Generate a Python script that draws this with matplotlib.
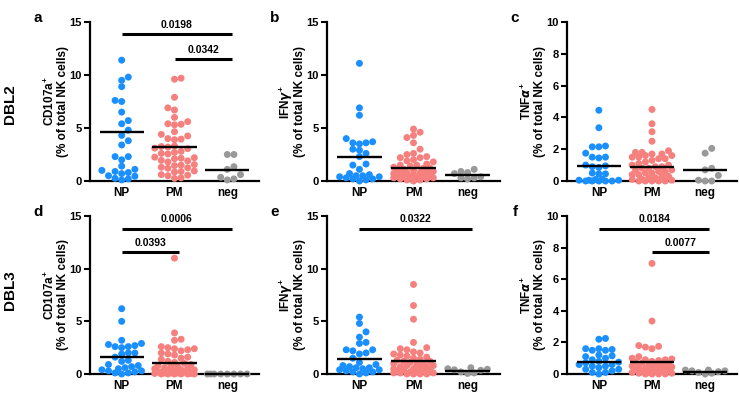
import numpy as np
import matplotlib
matplotlib.use("Agg")
import matplotlib.pyplot as plt

plt.rcParams['font.family'] = ['Liberation Sans', 'DejaVu Sans']
plt.rcParams['font.weight'] = 'bold'
plt.rcParams['mathtext.fontset'] = 'custom'
plt.rcParams['mathtext.rm'] = 'Liberation Sans:bold'
plt.rcParams['mathtext.bf'] = 'Liberation Sans:bold'

groups = ["NP", "PM", "neg"]
group_colors = ["#1a8fff", "#f5807e", "#999999"]

# DBL2 - CD107a
a_np = [11.4, 9.8, 9.5, 8.9, 7.6, 7.5, 6.5, 5.7, 5.4, 4.8, 4.3, 3.8, 3.4, 2.3, 2.3, 2.0,
        1.4, 1.1, 1.0, 0.9, 0.8, 0.7, 0.5, 0.45, 0.25, 0.2, 0.1]
a_pm = [9.7, 9.6, 7.9, 6.9, 6.7, 6.0, 5.6, 5.4, 5.35, 5.3, 4.65, 4.4, 4.25, 4.0, 3.95, 3.9,
        3.3, 3.25, 3.2, 3.1, 3.05, 2.8, 2.7, 2.6, 2.55, 2.25, 2.2, 2.15, 2.1, 1.95, 1.9, 1.8,
        1.55, 1.5, 1.45, 1.3, 1.25, 1.2, 0.95, 0.9, 0.85, 0.6, 0.55, 0.5, 0.3, 0.25]
a_neg = [2.5, 2.5, 1.35, 1.1, 0.6, 0.35, 0.2, 0.1]
a_mean = [4.6, 3.2, 1.05]

# DBL2 - IFNg
b_np = [11.1, 6.9, 6.2, 4.0, 3.7, 3.6, 3.6, 3.5, 3.0, 2.9, 2.6, 2.3, 1.6, 1.5, 1.1, 0.7,
        0.6, 0.5, 0.5, 0.4, 0.4, 0.3, 0.2, 0.2, 0.1, 0.0]
b_pm = [4.9, 4.6, 4.3, 4.1, 3.6, 3.0, 2.6, 2.5, 2.3, 2.2, 2.2, 2.0, 1.9, 1.8, 1.6, 1.5,
        1.5, 1.4, 1.3, 1.2, 1.2, 1.1, 1.0, 1.0, 0.9, 0.9, 0.8, 0.8, 0.7, 0.7, 0.6, 0.6,
        0.5, 0.5, 0.5, 0.4, 0.4, 0.3, 0.3, 0.2, 0.2, 0.1, 0.1, 0.0]
b_neg = [1.1, 0.9, 0.8, 0.7, 0.4, 0.3, 0.3, 0.2]
b_mean = [2.25, 1.2, 0.57]

# DBL2 - TNFa
c_np = [4.45, 3.35, 2.2, 2.15, 2.15, 1.75, 1.5, 1.5, 1.45, 1.0, 0.95, 0.9, 0.85, 0.5, 0.45,
        0.45, 0.1, 0.1, 0.05, 0.05, 0.05, 0.0, 0.0, 0.0, 0.0, 0.0]
c_pm = [4.5, 3.6, 3.1, 2.5, 1.9, 1.8, 1.8, 1.7, 1.7, 1.6, 1.6, 1.5, 1.5, 1.4, 1.4, 1.3,
        1.2, 1.1, 1.0, 1.0, 0.9, 0.9, 0.8, 0.8, 0.7, 0.7, 0.6, 0.6, 0.5, 0.5, 0.4, 0.4,
        0.3, 0.3, 0.2, 0.2, 0.1, 0.1, 0.05, 0.0, 0.0, 0.0, 0.0, 0.0]
c_neg = [2.05, 1.75, 0.8, 0.7, 0.35, 0.05, 0.0, 0.0]
c_mean = [0.92, 0.85, 0.7]

# DBL3 - CD107a
d_np = [6.2, 5.0, 3.2, 2.9, 2.8, 2.7, 2.6, 2.6, 2.5, 2.0, 2.0, 1.9, 1.6, 1.3, 1.2, 0.9,
        0.8, 0.7, 0.6, 0.5, 0.4, 0.3, 0.3, 0.2, 0.1, 0.1, 0.0]
d_pm = [11.0, 3.9, 3.3, 3.2, 2.6, 2.5, 2.4, 2.4, 2.3, 2.2, 2.0, 1.9, 1.8, 1.6, 1.5, 1.4,
        1.2, 1.1, 1.0, 0.9, 0.8, 0.7, 0.7, 0.6, 0.5, 0.5, 0.4, 0.4, 0.3, 0.3, 0.2, 0.2,
        0.2, 0.1, 0.1, 0.1, 0.05, 0.05, 0.0, 0.0, 0.0, 0.0, 0.0, 0.0]
d_neg = [0.0, 0.0, 0.0, 0.0, 0.0, 0.0, 0.0, 0.0]
d_mean = [1.57, 1.02, 0.0]

# DBL3 - IFNg
e_np = [5.4, 4.8, 4.0, 3.5, 3.0, 2.9, 2.3, 2.3, 2.2, 2.0, 1.9, 1.5, 1.1, 0.9, 0.8, 0.7,
        0.6, 0.6, 0.5, 0.4, 0.4, 0.3, 0.2, 0.2, 0.1, 0.0]
e_pm = [8.5, 6.5, 5.2, 3.0, 2.5, 2.4, 2.3, 2.1, 2.0, 1.9, 1.8, 1.7, 1.6, 1.5, 1.4, 1.3,
        1.2, 1.2, 1.1, 1.0, 1.0, 0.9, 0.8, 0.8, 0.7, 0.7, 0.6, 0.5, 0.5, 0.4, 0.4, 0.3,
        0.3, 0.2, 0.2, 0.1, 0.1, 0.1, 0.0, 0.0, 0.0, 0.0]
e_neg = [0.6, 0.5, 0.45, 0.4, 0.35, 0.2, 0.1, 0.05]
e_mean = [1.4, 1.2, 0.25]

# DBL3 - TNFa
f_np = [2.25, 2.2, 1.6, 1.6, 1.55, 1.5, 1.5, 1.2, 1.15, 1.1, 1.0, 0.9, 0.8, 0.75, 0.7, 0.6,
        0.6, 0.5, 0.5, 0.4, 0.3, 0.3, 0.2, 0.1, 0.1, 0.0]
f_pm = [7.0, 3.35, 1.8, 1.75, 1.7, 1.6, 1.1, 1.0, 0.95, 0.9, 0.9, 0.85, 0.8, 0.75, 0.7, 0.7,
        0.65, 0.6, 0.55, 0.5, 0.5, 0.45, 0.4, 0.4, 0.35, 0.3, 0.3, 0.25, 0.2, 0.2, 0.15, 0.1,
        0.1, 0.05, 0.05, 0.0, 0.0, 0.0, 0.0]
f_neg = [0.25, 0.25, 0.2, 0.2, 0.15, 0.1, 0.05, 0.0]
f_mean = [0.76, 0.78, 0.1]

# significance bars: (from group, to group, height, p value)
a_sig = [(0, 2, 13.85, "0.0198"), (1, 2, 11.5, "0.0342")]
d_sig = [(0, 2, 13.8, "0.0006"), (0, 1, 11.6, "0.0393")]
e_sig = [(0, 2, 13.8, "0.0322")]
f_sig = [(0, 2, 9.2, "0.0184"), (1, 2, 7.7, "0.0077")]

cd107a = r"CD107a$^{+}$"
ifng = r"IFN$\gamma^{+}$"
tnfa = r"TNF$\alpha^{+}$"

W, H = 739, 401
fig = plt.figure(figsize=(W / 100, H / 100), dpi=100)


def px_rect(l, t, r, b):
    return [l / W, 1 - b / H, (r - l) / W, (b - t) / H]


def swarm(ax, values, center, step=6.6, nslot=3, mind=6.2):
    # column-style scatter: each point takes the nearest free column slot
    vals = np.asarray(values, dtype=float)
    pts = ax.transData.transform(np.column_stack([np.full(len(vals), center), vals]))
    cx = pts[0, 0]
    placed = []
    xs = np.zeros(len(vals))
    flip = False
    for i in np.argsort(vals, kind="stable"):
        y = pts[i, 1]
        order = [0]
        for k in range(1, nslot + 1):
            order += [k, -k] if flip else [-k, k]
        flip = not flip
        best = None
        for s in order:
            x = cx + s * step
            if all((x - px) ** 2 + (y - py) ** 2 >= mind ** 2 for px, py in placed):
                best = x
                break
        if best is None:
            grid = cx + np.arange(-2 * nslot, 2 * nslot + 1) * step / 2
            gaps = [min((g - px) ** 2 + (y - py) ** 2 for px, py in placed) for g in grid]
            best = grid[int(np.argmax(gaps))]
        xs[i] = best
        placed.append((best, y))
    back = ax.transData.inverted().transform(np.column_stack([xs, pts[:, 1]]))
    return back[:, 0]


panels = [
    ("a", (90, 22, 259, 181), [a_np, a_pm, a_neg], a_mean, cd107a, 15, 5, a_sig),
    ("b", (327, 22, 500, 181), [b_np, b_pm, b_neg], b_mean, ifng, 15, 5, []),
    ("c", (567, 22, 737, 181), [c_np, c_pm, c_neg], c_mean, tnfa, 10, 2, []),
    ("d", (90, 216, 259, 374), [d_np, d_pm, d_neg], d_mean, cd107a, 15, 5, d_sig),
    ("e", (327, 216, 500, 374), [e_np, e_pm, e_neg], e_mean, ifng, 15, 5, e_sig),
    ("f", (567, 216, 737, 374), [f_np, f_pm, f_neg], f_mean, tnfa, 10, 2, f_sig),
]

for letter, box, data, means, ylab, ymax, ystep, sigs in panels:
    ax = fig.add_axes(px_rect(*box))
    ax.set_xlim(-0.6, 2.6)
    ax.set_ylim(0, ymax)
    for k, (vals, col) in enumerate(zip(data, group_colors)):
        xs = swarm(ax, vals, k)
        ax.scatter(xs, vals, s=25, color=col, edgecolors="none", clip_on=False, zorder=3)
        ax.plot([k - 0.42, k + 0.42], [means[k], means[k]], color="black", lw=1.7,
                solid_capstyle="butt", zorder=4, clip_on=False)
    for i, j, h, p in sigs:
        ax.plot([i, j + 0.08], [h, h], color="black", lw=2.2, solid_capstyle="butt",
                clip_on=False)
        ax.annotate(p, ((i + j + 0.08) / 2, h), xytext=(0, 3), textcoords="offset points",
                    ha="center", va="bottom", fontsize=7.5, fontweight="bold")
    ax.set_xticks(range(3))
    ax.set_xticklabels(groups, fontsize=8.5, fontweight="bold")
    ax.set_yticks(np.arange(0, ymax + 0.1, ystep))
    ax.tick_params(axis="y", direction="out", length=4, width=1.5, labelsize=8, pad=2)
    ax.tick_params(axis="x", length=0, pad=4)
    for side in ["top", "right"]:
        ax.spines[side].set_visible(False)
    for side in ["left", "bottom"]:
        ax.spines[side].set_linewidth(1.6)
    l, t, r, b = box
    yc = 1 - (t + b) / 2 / H
    fig.text((l - 40.5) / W, yc, ylab, rotation=90, ha="center", va="center", fontsize=8.5,
             fontweight="bold")
    fig.text((l - 27) / W, yc, "(% of total NK cells)", rotation=90, ha="center",
             va="center", fontsize=8.5, fontweight="bold")
    fig.text((l - 52) / W, 1 - (t - 4) / H, letter, ha="center", va="center", fontsize=11,
             fontweight="bold")

fig.text(10 / W, 1 - 104 / H, "DBL2", rotation=90, ha="center", va="center", fontsize=11,
         fontweight="bold")
fig.text(10 / W, 1 - 290 / H, "DBL3", rotation=90, ha="center", va="center", fontsize=11,
         fontweight="bold")

fig.savefig("out.png", dpi=100)
